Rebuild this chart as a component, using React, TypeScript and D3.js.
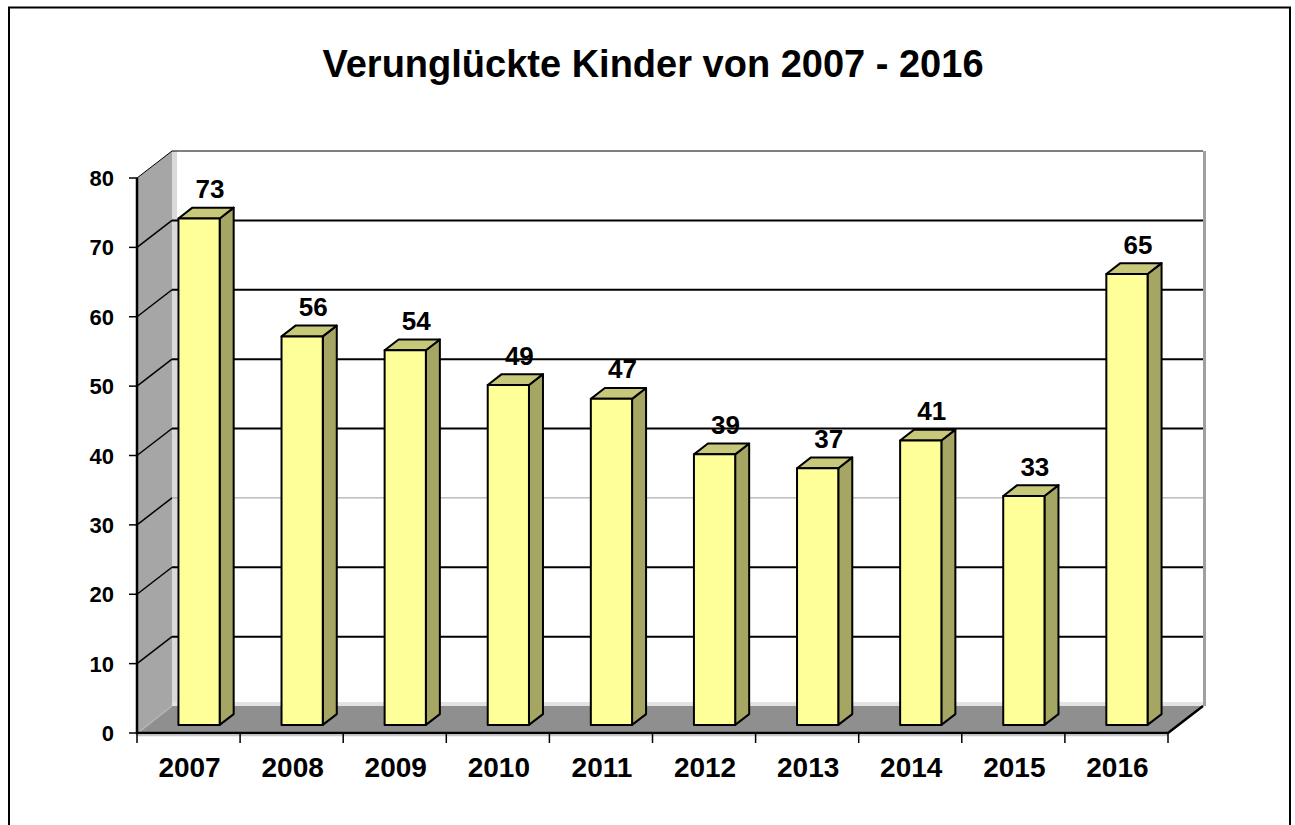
import React, { useEffect, useRef } from "react";
import * as d3 from "d3";

const years = ["2007", "2008", "2009", "2010", "2011", "2012", "2013", "2014", "2015", "2016"];
const injured = [73, 56, 54, 49, 47, 39, 37, 41, 33, 65];
const yTicks = [0, 10, 20, 30, 40, 50, 60, 70, 80];
const title = "Verunglückte Kinder von 2007 - 2016";

const FONT = "'Liberation Sans', Arial, sans-serif";

const App = () => {
  const ref = useRef<SVGSVGElement>(null);

  useEffect(() => {
    const svg = d3.select(ref.current);
    svg.selectAll("*").remove();

    const width = 1295;
    const height = 825;
    // depth of the 3d box (back wall offset)
    const DX = 35;
    const DY = 27;

    const x = d3.scaleBand().domain(years).range([137, 1168]).paddingInner(0);
    const y = d3.scaleLinear().domain([0, 80]).range([733, 178]);

    const px = (xf: number, z: number) => xf + z * DX;
    const py = (v: number, z: number) => y(v) - z * DY;
    const pt = (xf: number, v: number, z: number) => `${px(xf, z)},${py(v, z)}`;

    svg.attr("width", width).attr("height", height);

    // outer frame
    svg.append("rect")
      .attr("x", 9).attr("y", 7.5)
      .attr("width", 1281).attr("height", 830)
      .attr("fill", "#fff")
      .attr("stroke", "#000")
      .attr("stroke-width", 2);

    // title
    svg.append("text")
      .attr("x", 653).attr("y", 77)
      .attr("text-anchor", "middle")
      .attr("font-family", FONT)
      .attr("font-weight", "bold")
      .attr("font-size", 38)
      .attr("fill", "#000")
      .text(title);

    const x0 = x.range()[0];
    const x1 = x.range()[1];

    // left wall
    svg.append("polygon")
      .attr("points", [pt(x0, 0, 0), pt(x0, 80, 0), pt(x0, 80, 1), pt(x0, 0, 1)].join(" "))
      .attr("fill", "#a6a6a6");
    svg.append("rect")
      .attr("x", px(x0, 1)).attr("y", py(80, 1))
      .attr("width", 5).attr("height", py(0, 1) - py(80, 1))
      .attr("fill", "#d9d9d9");

    // back wall right edge
    svg.append("rect")
      .attr("x", px(x1, 1)).attr("y", py(80, 1))
      .attr("width", 3).attr("height", py(0, 1) - py(80, 1))
      .attr("fill", "#a0a0a0");

    // back wall bottom shade
    svg.append("rect")
      .attr("x", px(x0, 1)).attr("y", py(0, 1) - 4)
      .attr("width", px(x1, 1) - px(x0, 1)).attr("height", 4)
      .attr("fill", "#e3e3e3");

    // gridlines: wall diagonal + back wall
    yTicks.filter(v => v > 0).forEach(v => {
      const top = v === 80;
      const light = v === 30;
      svg.append("line")
        .attr("x1", px(x0, 0)).attr("y1", py(v, 0))
        .attr("x2", px(x0, 1)).attr("y2", py(v, 1))
        .attr("stroke", "#000")
        .attr("stroke-width", top ? 1 : 1.5);
      svg.append("line")
        .attr("x1", px(x0, 1)).attr("y1", py(v, 1))
        .attr("x2", px(x1, 1) + (top ? 0 : 0)).attr("y2", py(v, 1))
        .attr("stroke", light ? "#9a9a9a" : "#000")
        .attr("stroke-width", top || light ? 1 : 2);
    });

    // floor
    svg.append("polygon")
      .attr("points", [pt(x0, 0, 0), pt(x1, 0, 0), pt(x1, 0, 1), pt(x0, 0, 1)].join(" "))
      .attr("fill", "#8f8f8f");
    svg.append("line")
      .attr("x1", px(x0, 0) + 2).attr("y1", py(0, 0) - 1)
      .attr("x2", px(x0, 1)).attr("y2", py(0, 1))
      .attr("stroke", "#b5b5b5")
      .attr("stroke-width", 1.5);

    // front axis edges
    svg.append("path")
      .attr("d", `M${pt(x0, 80, 0)} L${pt(x0, 0, 0)} L${pt(x1, 0, 0)} L${pt(x1, 0, 1)}`)
      .attr("fill", "none")
      .attr("stroke", "#000")
      .attr("stroke-width", 2.5);
    svg.append("line")
      .attr("x1", px(x0, 0)).attr("y1", py(0, 0) + 2.5)
      .attr("x2", px(x1, 0)).attr("y2", py(0, 0) + 2.5)
      .attr("stroke", "#c8c8c8")
      .attr("stroke-width", 1.5);

    // y ticks + labels
    yTicks.forEach(v => {
      svg.append("line")
        .attr("x1", x0 - 8).attr("y1", y(v))
        .attr("x2", x0).attr("y2", y(v))
        .attr("stroke", "#000")
        .attr("stroke-width", 1.5);
      svg.append("text")
        .attr("x", 114).attr("y", y(v) + 8)
        .attr("text-anchor", "end")
        .attr("font-family", FONT)
        .attr("font-weight", "bold")
        .attr("font-size", 22)
        .text(v);
    });

    // x ticks + labels
    const bounds = years.map(d => x(d) as number).concat([x1]);
    bounds.forEach(b => {
      svg.append("line")
        .attr("x1", b).attr("y1", y(0))
        .attr("x2", b).attr("y2", y(0) + 10)
        .attr("stroke", "#000")
        .attr("stroke-width", 1.5);
    });
    years.forEach(d => {
      svg.append("text")
        .attr("x", (x(d) as number) + x.bandwidth() / 2 + 1)
        .attr("y", 777)
        .attr("text-anchor", "middle")
        .attr("font-family", FONT)
        .attr("font-weight", "bold")
        .attr("font-size", 28)
        .text(d);
    });

    // bars
    const bw = x.bandwidth() * 0.4;
    const z0 = 0.3;
    const z1 = 0.7;
    const bars = svg.append("g")
      .attr("stroke", "#000")
      .attr("stroke-width", 2)
      .attr("stroke-linejoin", "round");

    years.forEach((d, i) => {
      const v = injured[i];
      const l = (x(d) as number) + (x.bandwidth() - bw) / 2;
      const r = l + bw;
      // side
      bars.append("polygon")
        .attr("points", [pt(r, 0, z0), pt(r, v, z0), pt(r, v, z1), pt(r, 0, z1)].join(" "))
        .attr("fill", "#a6a664");
      // top
      bars.append("polygon")
        .attr("points", [pt(l, v, z0), pt(r, v, z0), pt(r, v, z1), pt(l, v, z1)].join(" "))
        .attr("fill", "#c8c87a");
      // front
      bars.append("polygon")
        .attr("points", [pt(l, 0, z0), pt(l, v, z0), pt(r, v, z0), pt(r, 0, z0)].join(" "))
        .attr("fill", "#ffff99");
    });

    // value labels
    years.forEach((d, i) => {
      const v = injured[i];
      svg.append("text")
        .attr("x", px((x(d) as number) + x.bandwidth() / 2, 0.5) + 4)
        .attr("y", py(v, 0.5) - 15)
        .attr("text-anchor", "middle")
        .attr("font-family", FONT)
        .attr("font-weight", "bold")
        .attr("font-size", 26)
        .text(v);
    });
  }, []);

  return (
    <svg
      ref={ref}
      style={{ position: "absolute", left: 0, top: 0, display: "block" }}
    />
  );
};

export default App;
